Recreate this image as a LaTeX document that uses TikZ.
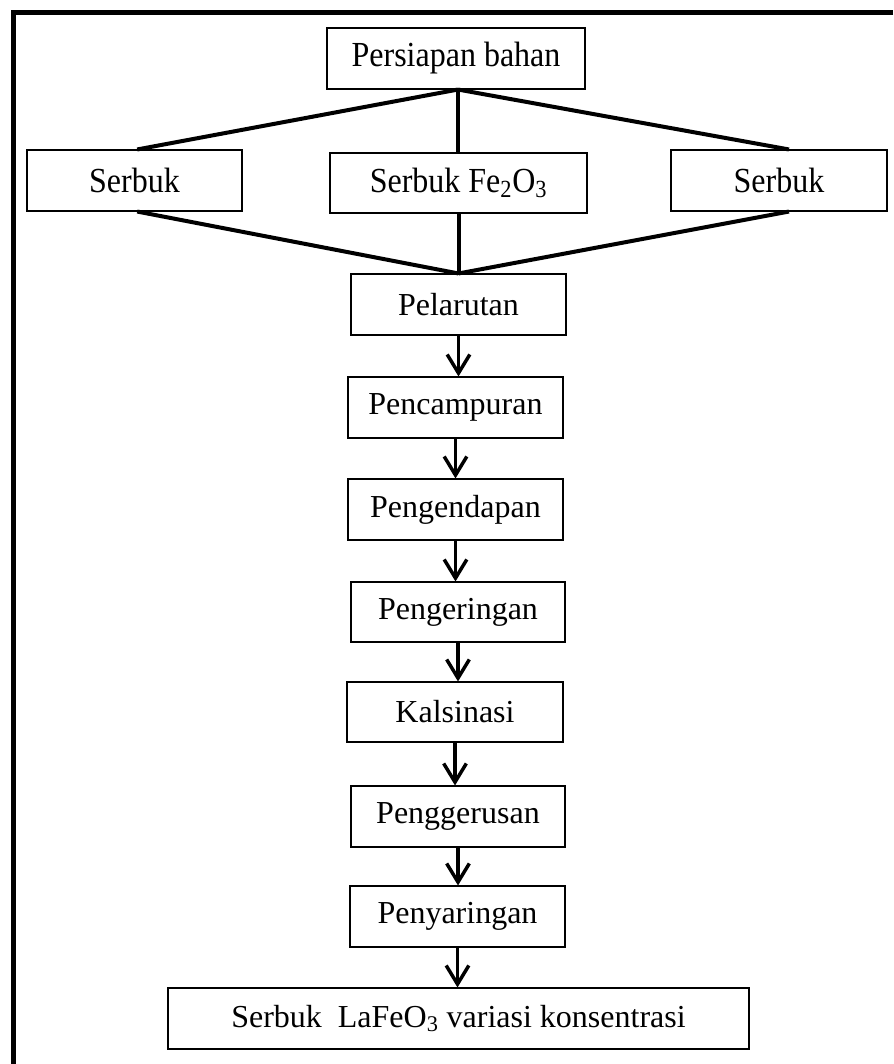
\documentclass[tikz,border=0pt]{standalone}
\usepackage{fontspec}
\setmainfont{Liberation Serif}
\usetikzlibrary{arrows.meta,calc}
\begin{document}
\begin{tikzpicture}[x=0.75pt,y=-0.75pt,
 box/.style={draw=black,line width=0.8pt,inner sep=0pt,minimum height=45.75pt,font=\fontsize{24}{28}\selectfont},
 link/.style={line width=3pt},
 flow/.style={line width=2.6pt,-{Straight Barb[length=14pt,width=17pt]}}]
\useasboundingbox (0,0) rectangle (893,1064);
\draw[line width=3.75pt] (893,12.5) -- (13.5,12.5) -- (13.5,1064);

\node[box,minimum width=193.5pt] (top) at (456,58.5) {\scalebox{1}[1.1]{Persiapan bahan}};
\node[box,minimum width=161.25pt] (s1) at (134.5,180.5) {\scalebox{1}[1.1]{Serbuk}};
\node[box,minimum width=192.75pt,minimum height=45pt] (s2) at (458.5,183) {\scalebox{1}[1.1]{Serbuk Fe\textsubscript{2}O\textsubscript{3}}};
\node[box,minimum width=162pt] (s3) at (779,180.5) {\scalebox{1}[1.1]{Serbuk}};

\node[box,minimum width=161.25pt] (pel) at (458.5,304.5) {Pelarutan};
\node[box,minimum width=161.25pt] (pen) at (455.5,407.5) {Pencampuran};
\node[box,minimum width=161.25pt] (pgd) at (455.5,509.5) {Pengendapan};
\node[box,minimum width=160.5pt,minimum height=45pt] (pgr) at (458,612) {Pengeringan};
\node[box,minimum width=162pt,minimum height=45pt] (kal) at (455,712) {Kalsinasi};
\node[box,minimum width=160.5pt] (pgs) at (458,816.5) {Penggerusan};
\node[box,minimum width=161.25pt] (pny) at (457.5,916.5) {Penyaringan};
\node[box,minimum width=435.75pt] (fin) at (458.5,1018.5) {Serbuk\ \ LaFeO\textsubscript{3} variasi konsentrasi};

\coordinate (tb) at ([xshift=1.5pt]top.south);
\draw[link] (tb) -- ([xshift=2pt]s1.north);
\draw[link] (tb) -- (tb |- s2.north);
\draw[link] (tb) -- ([xshift=7.5pt]s3.north);
\draw[link] ([xshift=2pt]s1.south) -- (pel.north);
\draw[link] (s2.south) -- (pel.north);
\draw[link] ([xshift=7.5pt]s3.south) -- (pel.north);

\draw[flow] (pel.south) -- (pel.south |- pen.north);
\draw[flow] (pen.south) -- (pen.south |- pgd.north);
\draw[flow] (pgd.south) -- (pgd.south |- pgr.north);
\draw[flow] (pgr.south) -- (pgr.south |- kal.north);
\draw[flow] (kal.south) -- (kal.south |- pgs.north);
\draw[flow] (pgs.south) -- (pgs.south |- pny.north);
\draw[flow] (pny.south) -- (pny.south |- fin.north);
\end{tikzpicture}
\end{document}
